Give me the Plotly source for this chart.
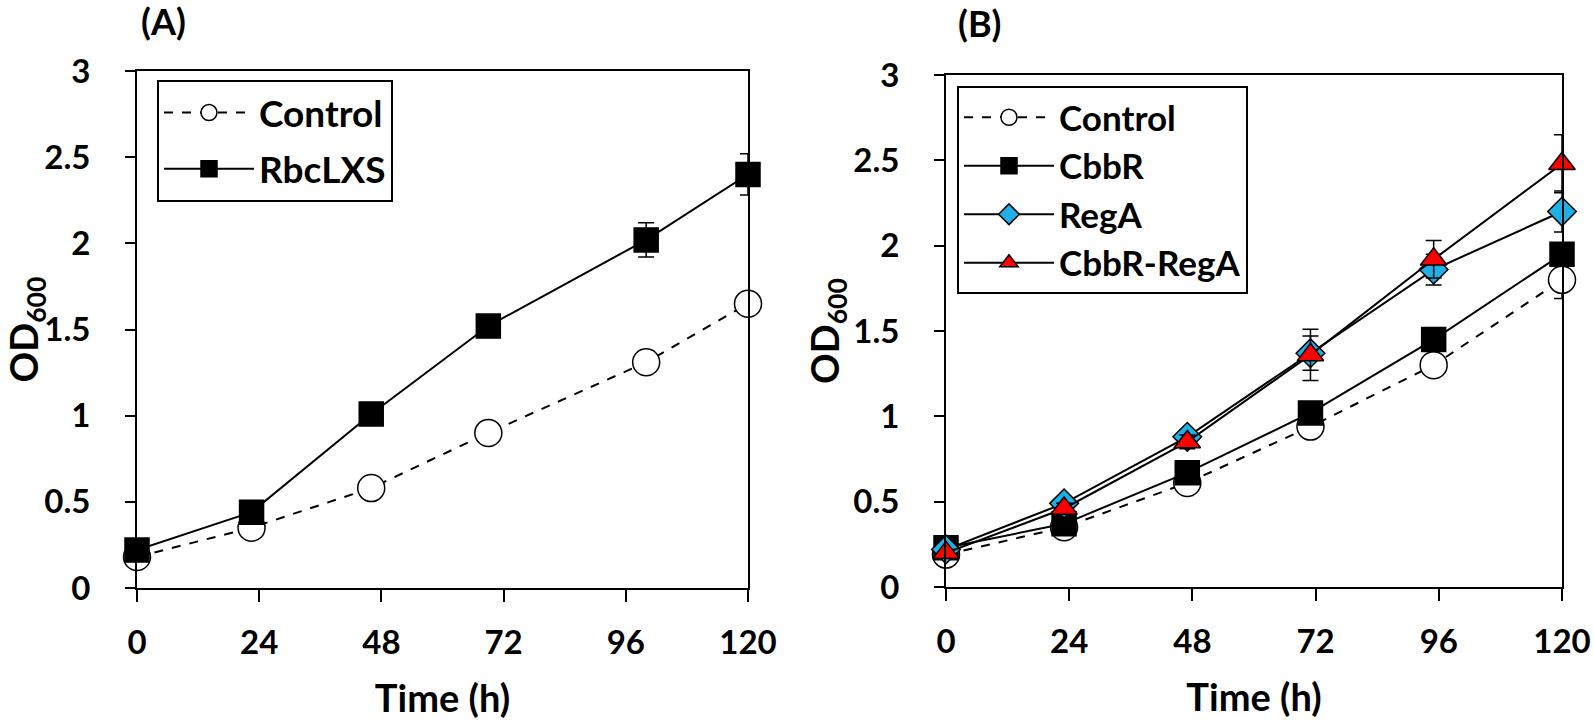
import plotly.graph_objects as go

# ---------------- data ----------------
time_a = [0, 22.5, 46, 69, 100, 120]
control_a = [0.18, 0.35, 0.58, 0.90, 1.31, 1.65]
control_a_err = [0.01, 0.02, 0.02, 0.03, 0.04, 0.05]
rbclxs = [0.22, 0.44, 1.01, 1.52, 2.02, 2.40]
rbclxs_err = [0.02, 0.03, 0.03, 0.05, 0.10, 0.12]

time_b = [0, 23, 47, 71, 95, 120]
control_b = [0.19, 0.35, 0.61, 0.94, 1.30, 1.80]
control_b_err = [0.01, 0.02, 0.03, 0.04, 0.05, 0.11]
cbbr = [0.23, 0.37, 0.67, 1.02, 1.45, 1.95]
cbbr_err = [0.01, 0.02, 0.03, 0.04, 0.05, 0.06]
rega = [0.22, 0.49, 0.88, 1.37, 1.86, 2.20]
rega_err = [0.02, 0.03, 0.04, 0.10, 0.09, 0.12]
cbbr_rega = [0.20, 0.46, 0.85, 1.36, 1.92, 2.48]
cbbr_rega_err = [0.02, 0.03, 0.04, 0.15, 0.11, 0.17]

x_ticks = [0, 24, 48, 72, 96, 120]
y_ticks = [0, 0.5, 1, 1.5, 2, 2.5, 3]

FONT = "Lato"
W, H = 1594, 722


def px(x):
    return x / W


def py(y):
    return 1 - y / H


fig = go.Figure()


def err(arr):
    return dict(type="data", array=arr, visible=True, color="black",
                thickness=1.5, width=8)


def add(x, y, e, name, symbol, size, fill, dash, xa, ya, legend, group):
    fig.add_trace(go.Scatter(
        x=x, y=y, name=name, mode="lines+markers",
        xaxis=xa, yaxis=ya, legend=legend, legendgroup=group,
        error_y=err(e), cliponaxis=False,
        line=dict(color="black", width=2, dash=dash),
        marker=dict(symbol=symbol, size=size, color=fill,
                    line=dict(color="black", width=1.5)),
    ))


# Panel A
add(time_a, control_a, control_a_err, "Control", "circle", 27, "white", "dash",
    "x", "y", "legend", "a1")
add(time_a, rbclxs, rbclxs_err, "RbcLXS", "square", 24, "black", "solid",
    "x", "y", "legend", "a2")

# Panel B
add(time_b, control_b, control_b_err, "Control", "circle", 27, "white", "dash",
    "x2", "y2", "legend2", "b1")
add(time_b, cbbr, cbbr_err, "CbbR", "square", 24, "black", "solid",
    "x2", "y2", "legend2", "b2")
add(time_b, rega, rega_err, "RegA", "diamond", 22, "#1fb0e8", "solid",
    "x2", "y2", "legend2", "b3")
add(time_b, cbbr_rega, cbbr_rega_err, "CbbR-RegA", "triangle-up", 23, "#ff0000", "solid",
    "x2", "y2", "legend2", "b4")

tickfont = dict(family=FONT, size=33, color="black", weight=700)
titlefont = dict(family=FONT, size=38, color="black", weight=700)

xcommon = dict(range=[0, 120], tickvals=x_ticks, ticks="outside", ticklen=12,
               tickwidth=2, tickcolor="black", showline=True, linewidth=2,
               linecolor="black", mirror=True, showgrid=False, zeroline=False,
               tickfont=tickfont, ticklabelstandoff=12, automargin=False,
               title=dict(text="Time (h)", font=titlefont, standoff=26))
ycommon = dict(range=[0, 3], tickvals=y_ticks, ticks="outside", ticklen=10,
               tickwidth=2, tickcolor="black", showline=True, linewidth=2,
               linecolor="black", mirror=True, showgrid=False, zeroline=False,
               tickfont=tickfont, ticklabelstandoff=28, automargin=False,
               title=dict(text="OD<sub>600</sub>", font=titlefont, standoff=0))

legcommon = dict(bgcolor="white", bordercolor="black", borderwidth=2,
                 xanchor="left", yanchor="top", itemsizing="trace", itemwidth=90)

fig.update_layout(
    width=W, height=H,
    margin=dict(l=0, r=0, t=0, b=0, autoexpand=False),
    paper_bgcolor="white", plot_bgcolor="white",
    xaxis=dict(domain=[px(137), px(748)], anchor="y", **xcommon),
    yaxis=dict(domain=[py(588), py(71)], anchor="x", **ycommon),
    xaxis2=dict(domain=[px(946), px(1562)], anchor="y2", **xcommon),
    yaxis2=dict(domain=[py(587), py(75)], anchor="x2", **ycommon),
    legend=dict(x=px(157), y=py(80), tracegroupgap=5,
                font=dict(family=FONT, size=37, color="black", weight=700),
                **legcommon),
    legend2=dict(x=px(957), y=py(86), tracegroupgap=0,
                 font=dict(family=FONT, size=35, color="black", weight=700),
                 **legcommon),
    annotations=[
        dict(text="(A)", x=px(163), y=py(21), xref="paper", yref="paper",
             xanchor="center", yanchor="middle", showarrow=False,
             font=dict(family=FONT, size=36, color="black", weight=700)),
        dict(text="(B)", x=px(979), y=py(23), xref="paper", yref="paper",
             xanchor="center", yanchor="middle", showarrow=False,
             font=dict(family=FONT, size=36, color="black", weight=700)),
    ],
    showlegend=True,
)

fig.write_html("out.html",
               config={"displayModeBar": False},
               post_script="document.body.style.margin='0';document.body.style.overflow='hidden';")
